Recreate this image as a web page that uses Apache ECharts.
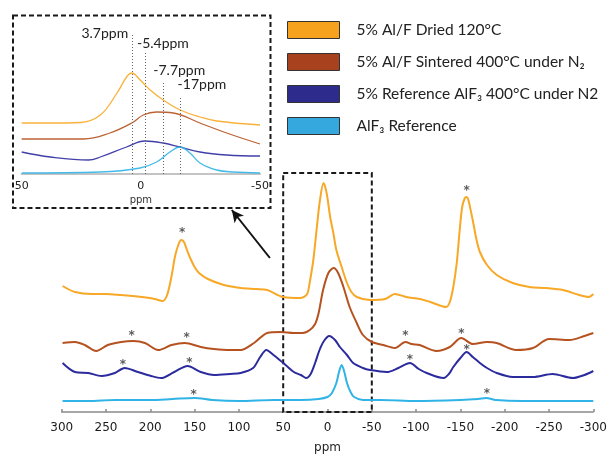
<!DOCTYPE html>
<html>
<head>
<meta charset="utf-8">
<script src="https://cdn.jsdelivr.net/npm/echarts@6/dist/echarts.min.js"></script>
<style>
html,body{margin:0;padding:0;background:#fff;}
#c{width:608px;height:455px;}
</style>
</head>
<body>
<div id="c"></div>
<script>
// ---------- names ----------
const seriesNames = [
  '5% Al/F Dried 120°C',
  '5% Al/F Sintered 400°C under N₂',
  '5% Reference AlF₃ 400°C under N2',
  'AlF₃ Reference'
];
const lineColors = ['#F7A826', '#B5521F', '#2C2B9E', '#30B3E6'];
const legendColors = ['#F7A21F', '#A8411D', '#2D2B8C', '#35A9DE'];

// ---------- main spectrum: [ppm, intensity] ----------
const orange = [[299,126],[285,120],[266,118],[250,118],[233,117],[220,116],[210,115],[195,113],[186,111],[181,117],[176,136],[172,156],[168,168],[165,172],[162,170],[159,163],[155,154],[150,145],[145,139],[135,133],[117,127],[98,124],[80,123],[68,122],[50,115],[30,114],[23,118],[20,130],[16,152],[12,185],[8.5,212],[4.5,229],[1,219],[-3,195],[-6.6,179],[-10,162],[-16,145],[-22,129],[-27,120],[-33,115],[-48,112],[-65,113],[-76,118],[-89,115],[-104,113],[-116,110],[-134,105],[-138,110],[-142,125],[-146,150],[-149,180],[-152,205],[-155,214],[-157,215],[-159,212],[-162,200],[-165,187],[-168,173],[-172,160],[-180,147],[-191,137],[-209,129],[-228,125],[-247,124],[-266,122],[-284,117],[-295,115],[-300,118]];
const brown = [[299,69],[285,70],[274,67],[261,61],[248,67],[233,70],[219,71],[206,69],[191,62],[176,67],[161,69],[143,65],[128,63],[110,62],[98,62],[83,69],[68,79],[53,80],[38,79],[28,79],[20,82],[14,88],[10,99],[5,122],[-1,139],[-7,144],[-12,139],[-18,125],[-25,105],[-33,89],[-40,77],[-50,70],[-63,67],[-76,64],[-88,70],[-95,68],[-104,67],[-123,61],[-138,65],[-151,74],[-164,68],[-180,70],[-191,69],[-213,62],[-232,64],[-250,73],[-273,72],[-290,76],[-300,79]];
const navy = [[299,49],[285,40],[270,39],[255,36],[240,39],[229,44],[214,40],[199,36],[188,34],[173,40],[158,46],[143,40],[128,37],[110,38],[98,39],[84,44],[76,55],[69,62],[61,57],[54,52],[46,46],[38,40],[30,37],[24,34],[19,38],[14,49],[9,62],[4,71],[-2,76],[-8.5,72],[-14,65],[-22,57],[-29,49],[-40,44],[-48,42],[-67,40],[-80,44],[-93,49],[-103,43],[-112,39],[-131,34],[-137,38],[-142,45],[-150,54],[-157,60],[-164,55],[-172,49],[-180,44],[-191,39],[-209,35],[-232,35],[-254,38],[-277,34],[-290,37],[-300,41]];
const cyan = [[299,11],[270,11],[240,12],[200,12],[175,13],[150,14],[130,12],[100,11],[60,12],[30,12],[10,13],[0,15],[-5,19],[-10,29],[-13,40],[-16,47],[-19,40],[-22,29],[-26,20],[-30,15],[-40,12],[-60,12],[-100,11],[-150,12],[-170,13],[-179,14],[-190,12],[-220,11],[-260,11],[-300,11]];

// spinning side-band markers (*)
const asterisks = [[164,182],[-157,224],[221,79],[159,77],[-88,79],[-151,81],[231,50],[156,52],[-93,55],[-157,65],[151,20],[-180,21]];

// ---------- inset (zoom of -50..50 ppm) ----------
const insetOrange = [[50,51],[38,51],[25.5,51.5],[17,59],[10,81],[6,97],[3.8,101],[0.3,94],[-3.9,84],[-9.4,74],[-16.5,64],[-24.8,57],[-31.8,53],[-50,49]];
const insetBrown = [[50,35],[24,35],[13,41],[3.8,51],[-1,59],[-6.6,62],[-13.6,61],[-24.8,51],[-36,41],[-50,30]];
const insetNavy = [[50,22],[38,17],[22,14],[17,17],[6,27],[-1.7,33],[-9.4,31],[-16.4,27],[-24.8,22],[-36,19],[-50,18]];
const insetCyan = [[50,1],[17,2],[0.3,6],[-6.6,12],[-12.2,22],[-16.4,27],[-20.6,21],[-24.8,11],[-31.8,4],[-38.8,2],[-50,1]];
const insetPeakPpm = [3.8, -1.7, -9.4, -16.4];
const insetPeakTop = [141, 121, 92, 77];
const insetPeakLabels = ['3.7ppm', '-5.4ppm', '-7.7ppm', '-17ppm'];
const insetLabelOffsets = [[-27, 12], [18, 2], [16, 0], [22, -1]];

// arrow from main spectrum towards inset, in main data coords
const arrowFrom = [65, 154];
const arrowTo = [108, 202];
// zoom-window in main spectrum
const zoomBox = [[50, 239], [-50, 0]];

const chart = echarts.init(document.getElementById('c'), null, {renderer: 'canvas'});

const mainLine = (i, data) => ({
  name: seriesNames[i], type: 'line', xAxisIndex: 0, yAxisIndex: 0,
  data: data, showSymbol: false, smooth: 0.3, silent: true,
  lineStyle: {color: lineColors[i], width: 2}, itemStyle: {color: lineColors[i]},
  z: 3
});
const insetLine = (i, data) => ({
  name: seriesNames[i], type: 'line', xAxisIndex: 1, yAxisIndex: 1,
  data: data, showSymbol: false, smooth: 0.4, silent: true,
  lineStyle: {color: lineColors[i], width: 1.3, opacity: 0.9}, itemStyle: {color: lineColors[i]},
  z: 3
});

const series = [
  Object.assign(mainLine(0, orange), {
    markLine: {
      silent: true, symbol: ['none', 'arrow'], symbolSize: [9, 12],
      label: {show: false},
      lineStyle: {color: '#111', width: 2, type: 'solid'},
      data: [[{coord: arrowFrom}, {coord: arrowTo}]]
    }
  }),
  mainLine(1, brown),
  mainLine(2, navy),
  Object.assign(mainLine(3, cyan), {
    markArea: {
      silent: true,
      itemStyle: {color: 'rgba(0,0,0,0)', borderColor: '#1a1a1a', borderWidth: 2, borderType: [5, 3]},
      data: [[{coord: zoomBox[0]}, {coord: zoomBox[1]}]]
    }
  }),
  {
    type: 'scatter', xAxisIndex: 0, yAxisIndex: 0, data: asterisks, symbolSize: 0, silent: true,
    label: {show: true, formatter: '*', position: 'inside', fontSize: 12, fontWeight: 'bold',
      fontFamily: 'DejaVu Sans', color: '#333', offset: [0, 3]}
  },
  insetLine(0, insetOrange),
  insetLine(1, insetBrown),
  insetLine(2, insetNavy),
  Object.assign(insetLine(3, insetCyan), {
    markLine: {
      silent: true, symbol: ['none', 'none'],
      lineStyle: {color: '#666', width: 1, type: [1, 2]},
      data: insetPeakPpm.map((p, k) => [
        {coord: [p, 0], label: {show: true, position: 'end', formatter: insetPeakLabels[k],
          offset: insetLabelOffsets[k], fontFamily: 'Lato', fontSize: 14, color: '#222'}},
        {coord: [p, insetPeakTop[k]]}
      ])
    }
  })
];

chart.setOption({
  animation: false,
  backgroundColor: '#fff',
  legend: {
    orient: 'vertical', left: 287, top: 21, padding: 0,
    itemWidth: 52, itemHeight: 17, itemGap: 14, icon: 'rect',
    selectedMode: false,
    itemStyle: {borderColor: '#333', borderWidth: 1},
    textStyle: {fontFamily: 'Lato', fontSize: 15.5, color: '#222', padding: [0, 0, 0, 12]},
    data: seriesNames.map((n, i) => ({name: n, itemStyle: {color: legendColors[i], borderColor: '#333', borderWidth: 1}}))
  },
  grid: [
    {left: 61.7, right: 14.7, top: 152, bottom: 43, outerBoundsMode: 'none', containLabel: false},
    {left: 21.7, right: 348, top: 30, bottom: 281, outerBoundsMode: 'none', containLabel: false}
  ],
  xAxis: [
    {
      type: 'value', gridIndex: 0, min: -300, max: 300, interval: 50, inverse: true,
      name: 'ppm', nameLocation: 'middle', nameGap: 30,
      nameTextStyle: {fontFamily: 'DejaVu Sans', fontSize: 12, color: '#222'},
      axisLine: {show: true, lineStyle: {color: '#8a8a8a', width: 1.5}},
      axisTick: {show: true, inside: true, length: 3, lineStyle: {color: '#8a8a8a', width: 1.5}},
      axisLabel: {fontFamily: 'DejaVu Sans', fontSize: 12, color: '#1a1a1a', margin: 10},
      splitLine: {show: false}
    },
    {
      type: 'value', gridIndex: 1, min: -50, max: 50, interval: 50, inverse: true,
      name: 'ppm', nameLocation: 'middle', nameGap: 21,
      nameTextStyle: {fontFamily: 'DejaVu Sans', fontSize: 10, color: '#333'},
      axisLine: {show: true, lineStyle: {color: '#c4c4c4', width: 2}},
      axisTick: {show: false},
      axisLabel: {fontFamily: 'DejaVu Sans', fontSize: 11, color: '#222', margin: 7},
      splitLine: {show: false}
    }
  ],
  yAxis: [
    {type: 'value', gridIndex: 0, min: 0, max: 260, show: false, splitLine: {show: false}},
    {type: 'value', gridIndex: 1, min: 0, max: 144, show: false, splitLine: {show: false}}
  ],
  graphic: [
    {type: 'rect', silent: true, z: 10,
     shape: {x: 13, y: 15.5, width: 257.5, height: 192.5},
     style: {fill: 'none', stroke: '#1a1a1a', lineWidth: 2, lineDash: [5, 3]}}
  ],
  series: series
});
</script>
</body>
</html>
